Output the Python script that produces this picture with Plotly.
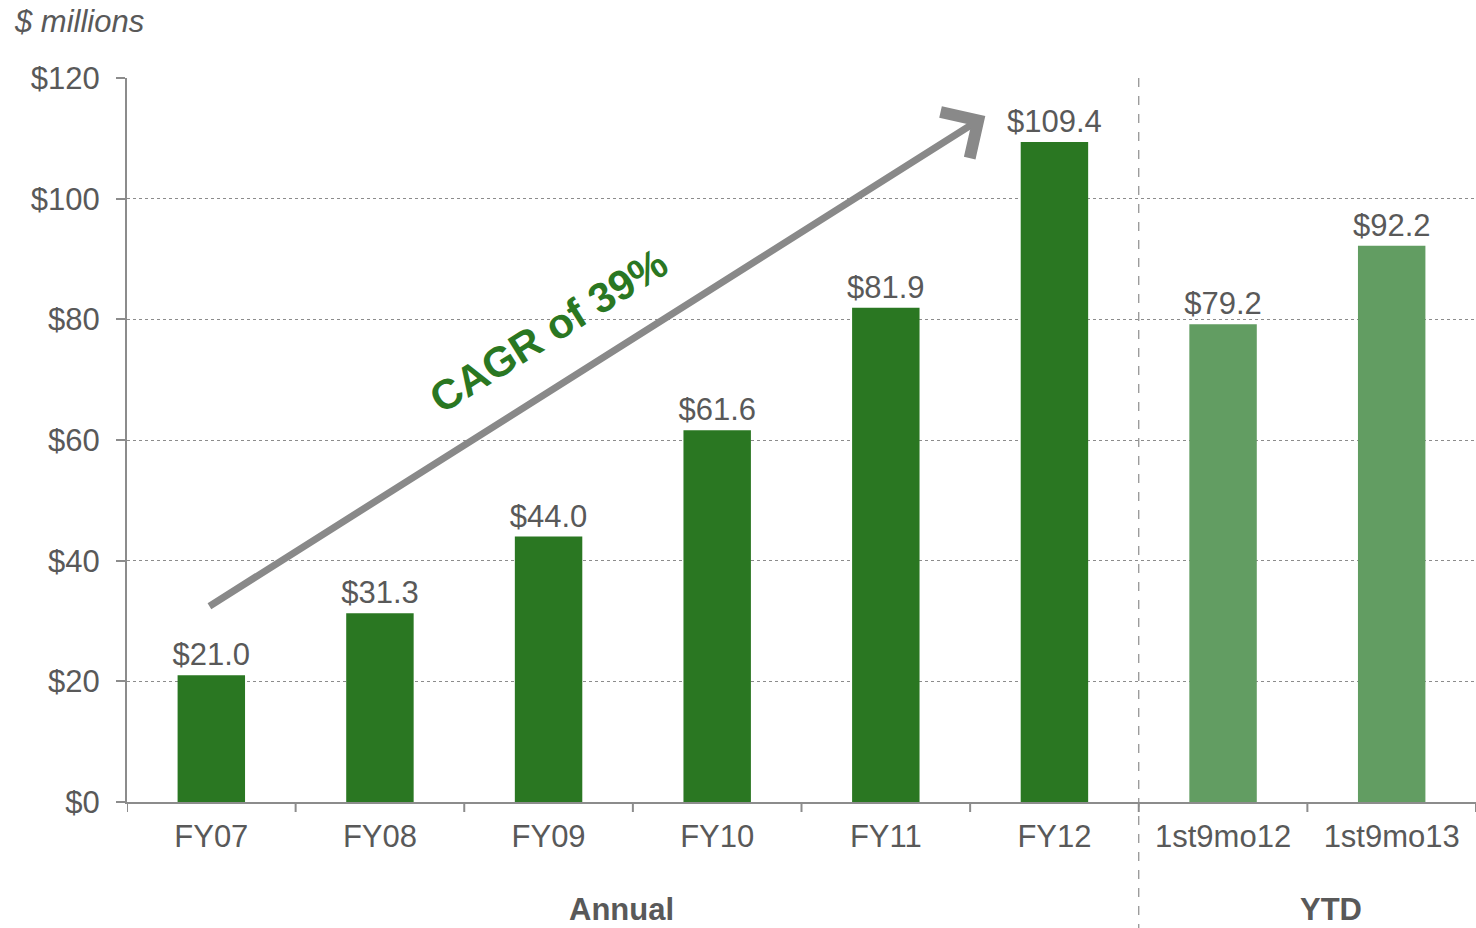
import plotly.graph_objects as go

categories = ["FY07", "FY08", "FY09", "FY10", "FY11", "FY12", "1st9mo12", "1st9mo13"]
values = [21.0, 31.3, 44.0, 61.6, 81.9, 109.4, 79.2, 92.2]
bar_colors = ["#2A7722"] * 6 + ["#629D62"] * 2
y_ticks = [0, 20, 40, 60, 80, 100, 120]
y_tick_labels = ["$0", "$20", "$40", "$60", "$80", "$100", "$120"]
group_labels = ["Annual", "YTD"]
cagr_text = "CAGR of 39%"

FONT = "Liberation Sans, Arial, sans-serif"
GRAY_TXT = "#595959"
FS = 31
PW, PH = 1349, 724  # plot area size in px

fig = go.Figure()
fig.add_trace(go.Bar(
    x=list(range(len(categories))),
    y=values,
    marker=dict(color=bar_colors, line=dict(width=0)),
    width=0.4,
    text=[f"${v:.1f}" for v in values],
    textposition="outside",
    constraintext="none",
    textfont=dict(family=FONT, size=FS, color=GRAY_TXT),
    cliponaxis=False,
    hoverinfo="skip",
))

fig.update_layout(
    template="none",
    width=1476, height=928,
    margin=dict(l=127, r=0, t=78, b=126, autoexpand=False),
    plot_bgcolor="white", paper_bgcolor="white",
    showlegend=False,
    font=dict(family=FONT, color=GRAY_TXT),
)

fig.update_xaxes(
    range=[-0.5, len(categories) - 0.5],
    tickmode="array",
    tickvals=list(range(len(categories))),
    ticktext=categories,
    tickfont=dict(family=FONT, size=FS, color=GRAY_TXT),
    showgrid=False,
    showline=True, linecolor="#8C8C8C", linewidth=2,
    ticks="", zeroline=False,
    ticklabelstandoff=6,
    automargin=False,
)
fig.update_yaxes(
    range=[0, 120],
    tickmode="array",
    tickvals=y_ticks,
    ticktext=y_tick_labels,
    tickfont=dict(family=FONT, size=FS, color=GRAY_TXT),
    showgrid=True, gridcolor="#8C8C8C", griddash="dot", gridwidth=1,
    showline=True, linecolor="#8C8C8C", linewidth=2,
    ticks="outside", ticklen=9, tickcolor="#8C8C8C", tickwidth=2,
    zeroline=False,
    ticklabelstandoff=10,
    automargin=False,
)

# category boundary ticks below x axis
for i in range(len(categories) + 1):
    b = i - 0.5
    fig.add_shape(type="line", xref="x", yref="paper",
                  x0=b, x1=b, y0=0, y1=-10 / PH,
                  line=dict(color="#8C8C8C", width=2))

# dashed divider between Annual and YTD
fig.add_shape(type="line", xref="x", yref="paper",
              x0=5.5, x1=5.5, y0=1.0, y1=-126 / PH,
              line=dict(color="#8C8C8C", width=1.2, dash="dash"))

# group labels
fig.add_annotation(x=2.43, y=-107 / PH, xref="x", yref="paper",
                   yanchor="middle", borderpad=0,
                   text=f"<b>{group_labels[0]}</b>", showarrow=False,
                   font=dict(family=FONT, size=FS, color=GRAY_TXT))
fig.add_annotation(x=6.64, y=-107 / PH, xref="x", yref="paper",
                   yanchor="middle", borderpad=0,
                   text=f"<b>{group_labels[1]}</b>", showarrow=False,
                   font=dict(family=FONT, size=FS, color=GRAY_TXT))

# y unit label
fig.add_annotation(x=-114 / PW, y=1 + 57 / PH, xref="paper", yref="paper",
                   text="<i>$ millions</i>", showarrow=False,
                   xanchor="left", yanchor="middle", borderpad=0,
                   font=dict(family=FONT, size=31, color=GRAY_TXT))

# CAGR arrow
fig.add_annotation(x=4.59, y=113.7, ax=-0.02, ay=32.3,
                   xref="x", yref="y", axref="x", ayref="y",
                   text="", showarrow=True,
                   arrowhead=4, arrowsize=1.5, arrowwidth=7,
                   arrowcolor="#898989", standoff=0)
fig.add_annotation(x=2.0, y=78.2, xref="x", yref="y",
                   text=f"<b>{cagr_text}</b>", showarrow=False,
                   textangle=-32,
                   font=dict(family=FONT, size=42, color="#2A7722"))

fig.write_html("out.html",
               config={"displayModeBar": False},
               post_script="document.body.style.margin='0';")
